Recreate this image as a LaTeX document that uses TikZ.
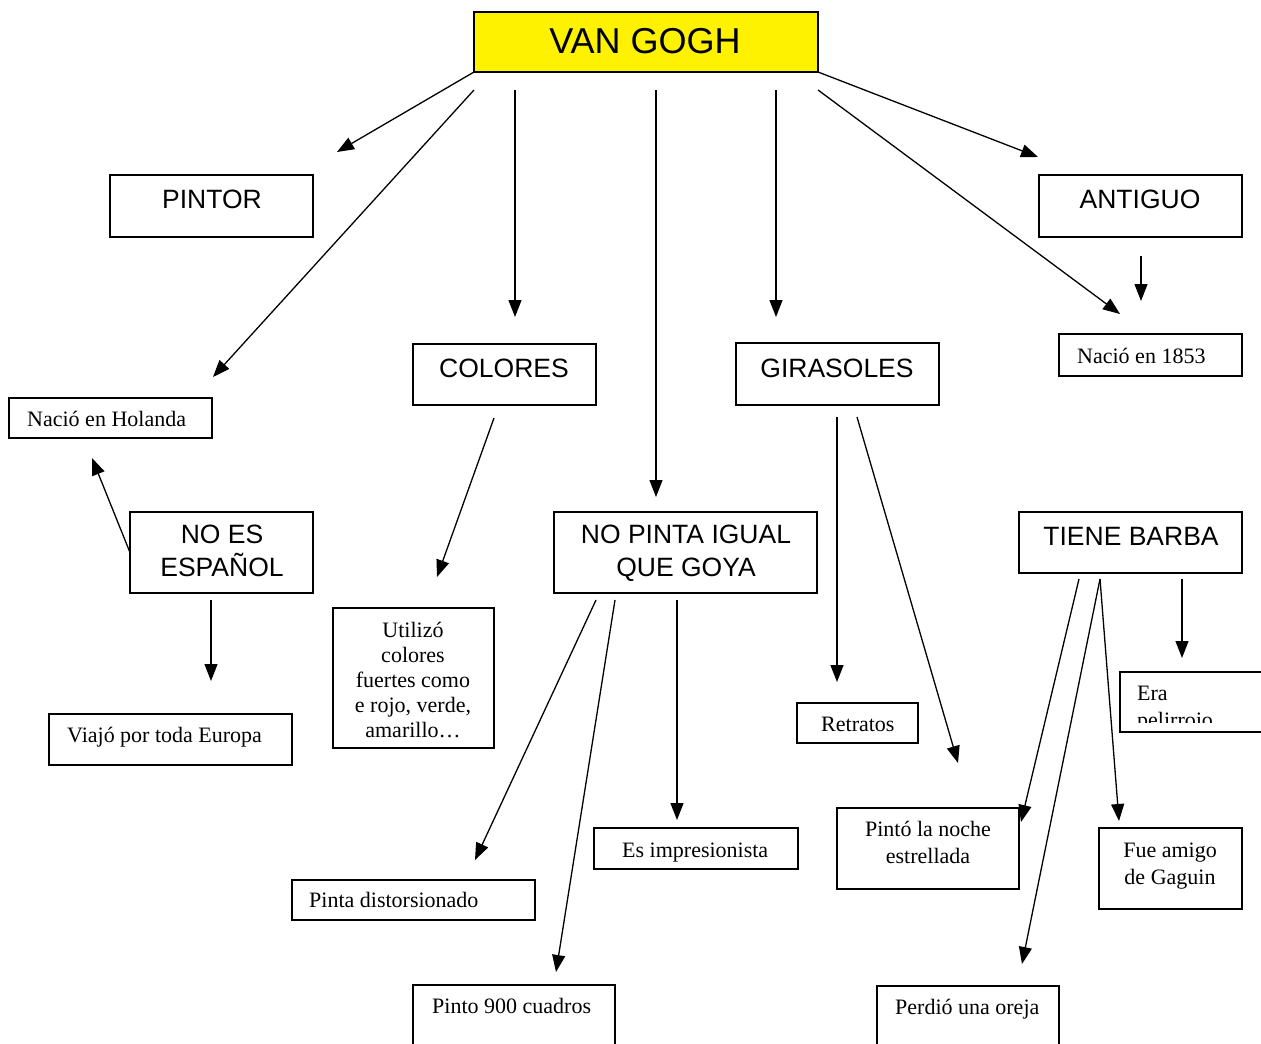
\documentclass[tikz,border=0pt]{standalone}
\usepackage{fontspec}
\setmainfont{Liberation Serif}
\newfontfamily\arialfont{Liberation Sans}
\usetikzlibrary{arrows.meta}
\begin{document}
\begin{tikzpicture}[x=1pt,y=-1pt,
  box/.style={draw, line width=1.5pt, anchor=north west, inner sep=0pt, outer sep=0pt},
  head/.style={font=\arialfont\fontsize{26.5}{33}\selectfont, inner sep=0pt, anchor=base},
  note/.style={font=\fontsize{22}{27}\selectfont, inner sep=0pt, anchor=base},
  notel/.style={note, anchor=base west},
  arr/.style={line width=1.3pt, -{Triangle[length=17pt,width=13pt]}}]
\useasboundingbox (0,0) rectangle (1261,1044);

% ---- boxes ----
\node[box, fill=yellow, minimum width=344pt, minimum height=60pt] (vg) at (474,12) {};
\node[font=\arialfont\fontsize{36}{40}\selectfont, inner sep=0pt, anchor=base] (vg-t) at (645,53) {VAN GOGH};

\node[box, minimum width=203pt, minimum height=62pt] (pintor) at (110,175) {};
\node[head] (pintor-t) at (212,208) {PINTOR};

\node[box, minimum width=203pt, minimum height=62pt] (antiguo) at (1039,175) {};
\node[head] (antiguo-t) at (1140,208) {ANTIGUO};

\node[box, minimum width=183pt, minimum height=61pt] (colores) at (413,344) {};
\node[head] (colores-t) at (504,377) {COLORES};

\node[box, minimum width=203pt, minimum height=62pt] (girasoles) at (736,343) {};
\node[head] (girasoles-t) at (837,377) {GIRASOLES};

\node[box, minimum width=203pt, minimum height=40pt] (holanda) at (9,398) {};
\node[notel] (holanda-t) at (27,426) {Nació en Holanda};

\node[box, minimum width=183pt, minimum height=42pt] (n1853) at (1059,334) {};
\node[notel] (n1853-t) at (1077,363) {Nació en 1853};

\node[box, minimum width=183pt, minimum height=81pt] (noes) at (130,512) {};
\node[head] (noes-t) at (222,543) {\begin{tabular}[t]{@{}c@{}}NO ES\\ESPAÑOL\end{tabular}};

\node[box, minimum width=263pt, minimum height=81pt] (nopinta) at (554,512) {};
\node[head] (nopinta-t) at (686,543) {\begin{tabular}[t]{@{}c@{}}NO PINTA IGUAL\\QUE GOYA\end{tabular}};

\node[box, minimum width=223pt, minimum height=61pt] (barba) at (1019,512) {};
\node[head] (barba-t) at (1131,545) {TIENE BARBA};

\node[box, minimum width=161pt, minimum height=140pt] (utilizo) at (333,608) {};
\node[note, font=\fontsize{22}{25}\selectfont] (utilizo-t) at (413,637)
  {\begin{tabular}[t]{@{}c@{}}Utilizó\\colores\\fuertes como\\e rojo, verde,\\amarillo…\end{tabular}};

\node[box, minimum width=243pt, minimum height=51pt] (viajo) at (49,714) {};
\node[notel] (viajo-t) at (67,742) {Viajó por toda Europa};

\node[box, minimum width=121pt, minimum height=40pt] (retratos) at (797,703) {};
\node[notel] (retratos-t) at (821,731) {Retratos};

\node[box, minimum width=160pt, minimum height=60pt] (era) at (1120,672) {};
\begin{scope}
  \clip (1120,672) rectangle (1261,722);
  \node[notel] (era-t) at (1137,700) {\begin{tabular}[t]{@{}l@{}}Era\\pelirrojo\end{tabular}};
\end{scope}

\node[box, minimum width=204pt, minimum height=41pt] (impres) at (594,828) {};
\begin{scope}
  \clip (594,828) rectangle (798,862);
  \node[notel] (impres-t) at (622,857) {Es impresionista};
\end{scope}

\node[box, minimum width=182pt, minimum height=81pt] (noche) at (837,808) {};
\node[note] (noche-t) at (928,836) {\begin{tabular}[t]{@{}c@{}}Pintó la noche\\estrellada\end{tabular}};

\node[box, minimum width=143pt, minimum height=81pt] (amigo) at (1099,828) {};
\node[note] (amigo-t) at (1170,857) {\begin{tabular}[t]{@{}c@{}}Fue amigo\\de Gaguin\end{tabular}};

\node[box, minimum width=243pt, minimum height=40pt] (distor) at (292,880) {};
\node[notel] (distor-t) at (309,907) {Pinta distorsionado};

\node[box, minimum width=202pt, minimum height=80pt] (cuadros) at (413,985) {};
\node[notel] (cuadros-t) at (432,1013) {Pinto 900 cuadros};

\node[box, minimum width=182pt, minimum height=80pt] (oreja) at (877,986) {};
\node[notel] (oreja-t) at (895,1014) {Perdió una oreja};

% ---- connector ends ----
\coordinate (s2) at (474,90);   \coordinate (e2) at (213,377);
\coordinate (s3) at (515,90);   \coordinate (e3) at (515,317);
\coordinate (s4) at (656,90);   \coordinate (e4) at (656,497);
\coordinate (s5) at (776,90);   \coordinate (e5) at (776,317);
\coordinate (s6) at (818,90);   \coordinate (e6) at (1120,314);
\coordinate (e1) at (337,152);
\coordinate (e7) at (1038,157);
\coordinate (s8) at (1141,256); \coordinate (e8) at (1141,301);
\coordinate (e9) at (92,458);
\coordinate (s10) at (211,600); \coordinate (e10) at (211,681);
\coordinate (s11) at (494,418); \coordinate (e11) at (437,577);
\coordinate (s12) at (596,600); \coordinate (e12) at (475,860);
\coordinate (s13) at (615,600); \coordinate (e13) at (556,972);
\coordinate (s14) at (677,600); \coordinate (e14) at (677,820);
\coordinate (s15) at (837,417); \coordinate (e15) at (837,682);
\coordinate (s16) at (857,417); \coordinate (e16) at (958,763);
\coordinate (s17) at (1079,579); \coordinate (e17) at (1021,822);
\coordinate (s18) at (1100,579); \coordinate (e18) at (1022,964);
\coordinate (e19) at (1119,821);
\coordinate (s20) at (1182,579); \coordinate (e20) at (1182,658);

% ---- connectors ----
\draw[arr] (vg.south west) -- (e1);
\draw[arr] (s2) -- (e2);
\draw[arr] (s3) -- (e3);
\draw[arr] (s4) -- (e4);
\draw[arr] (s5) -- (e5);
\draw[arr] (s6) -- (e6);
\draw[arr] (vg.south east) -- (e7);
\draw[arr] (s8) -- (e8);
\draw[arr] (noes.west) -- (e9);
\draw[arr] (s10) -- (e10);
\draw[arr] (s11) -- (e11);
\draw[arr] (s12) -- (e12);
\draw[arr] (s13) -- (e13);
\draw[arr] (s14) -- (e14);
\draw[arr] (s15) -- (e15);
\draw[arr] (s16) -- (e16);
\draw[arr] (s17) -- (e17);
\draw[arr] (s18) -- (e18);
\draw[arr] (s18) -- (e19);
\draw[arr] (s20) -- (e20);
\end{tikzpicture}
\end{document}
